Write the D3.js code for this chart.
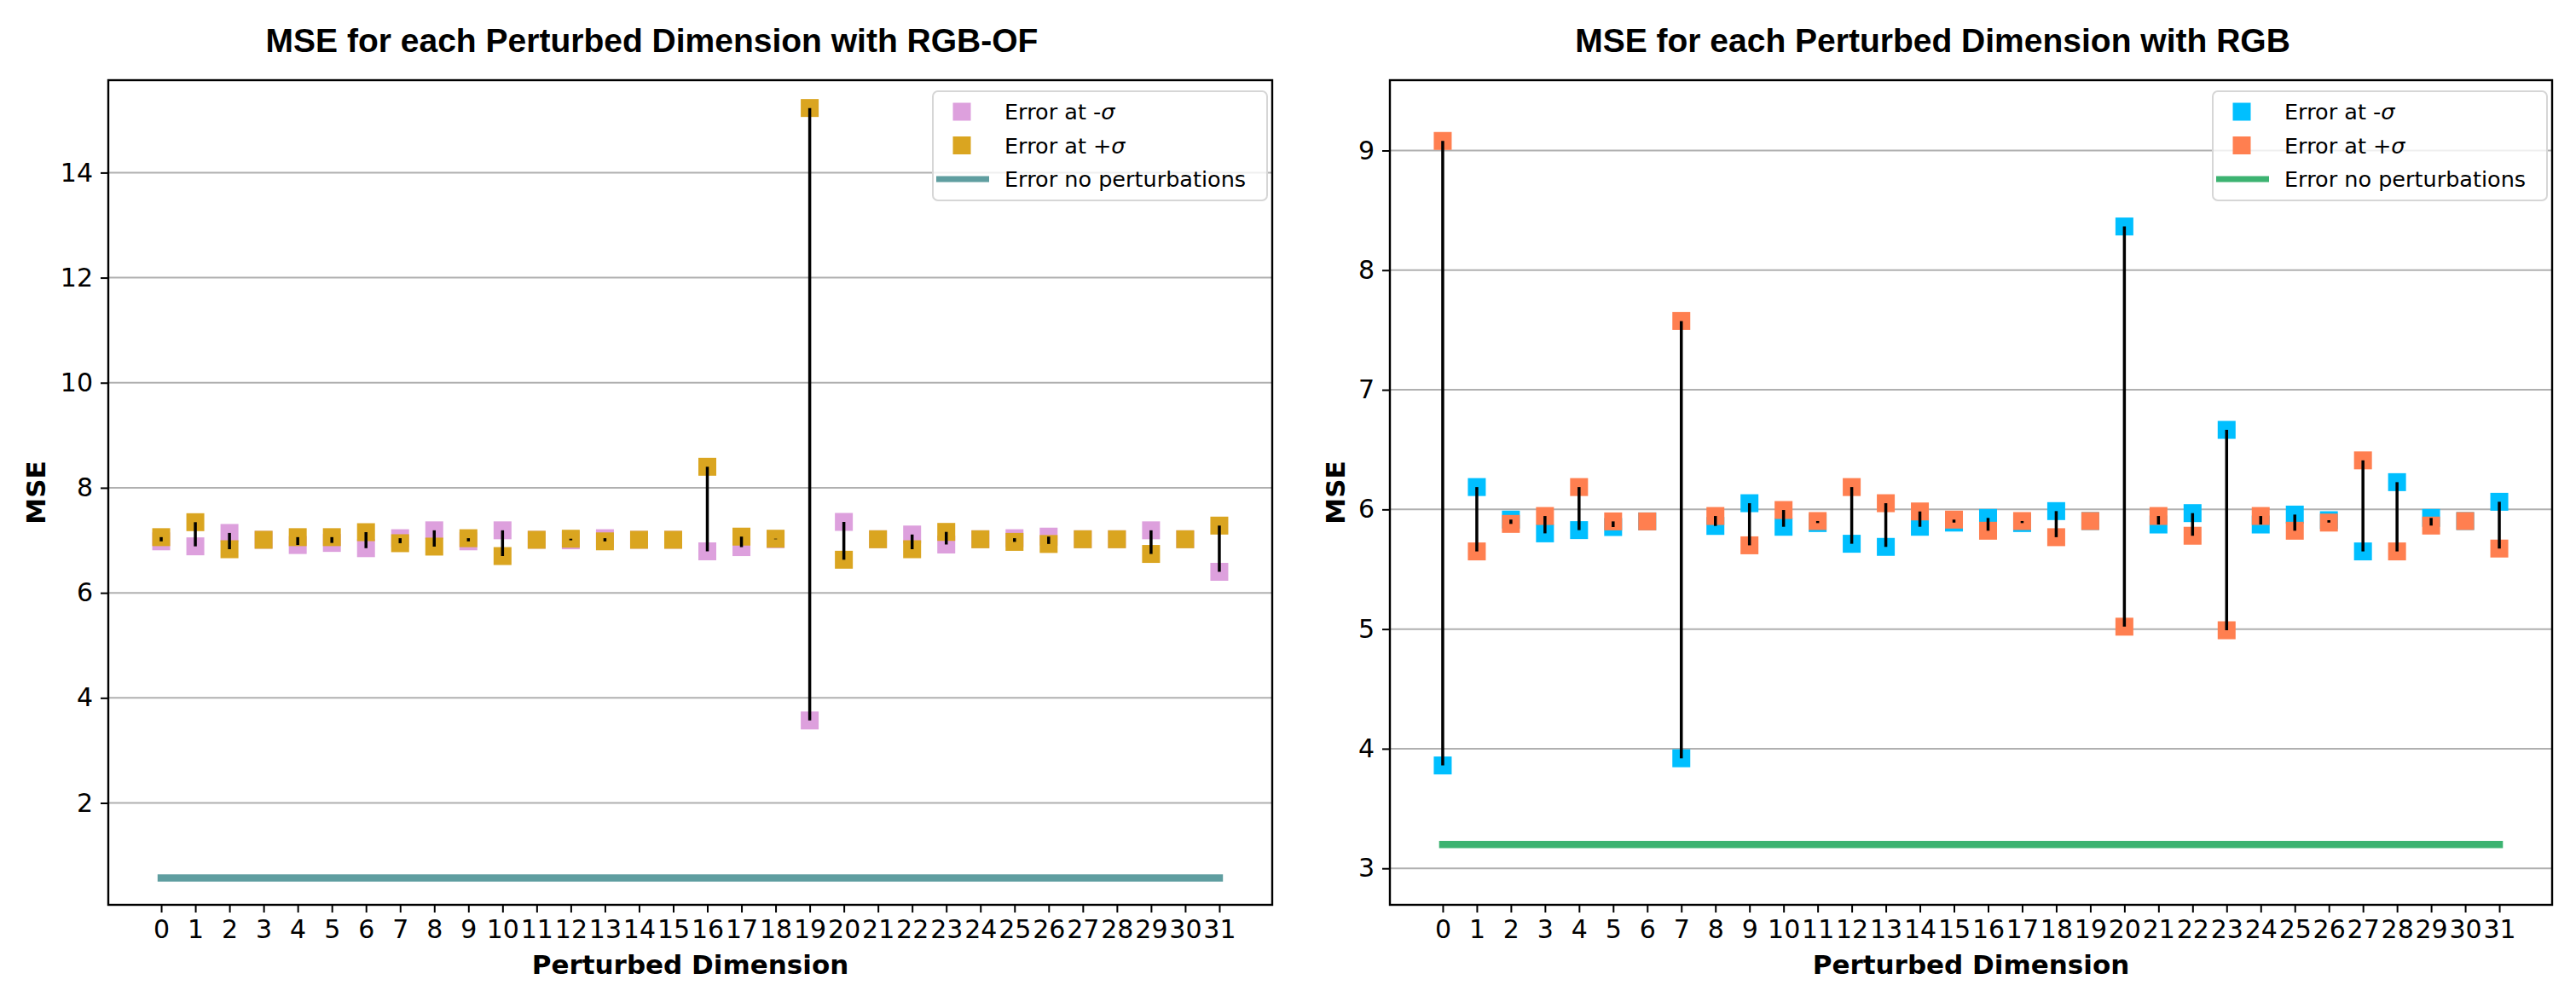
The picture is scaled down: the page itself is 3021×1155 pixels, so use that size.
<!DOCTYPE html>
<html>
<head>
<meta charset="utf-8">
<script src="https://cdn.jsdelivr.net/npm/d3@7"></script>
<style>
  body { margin: 0; background: #fff; }
  svg { display: block; }
</style>
</head>
<body>
<svg id="chart" width="3021" height="1155"></svg>
<script>
/* ── MSE per perturbed dimension: RGB-OF vs RGB ─────────── */

const dims = [0, 1, 2, 3, 4, 5, 6, 7, 8, 9, 10, 11, 12, 13, 14, 15,
              16, 17, 18, 19, 20, 21, 22, 23, 24, 25, 26, 27, 28, 29, 30, 31];

// RGB-OF panel
const ofMinus = [6.98, 6.885, 7.14, 7.01, 6.91, 6.95, 6.85, 7.04, 7.19, 6.98, 7.19, 7.01, 7.00, 7.04, 7.01, 7.01,
                 6.79, 6.87, 7.02, 3.57, 7.35, 7.02, 7.11, 6.92, 7.02, 7.04, 7.07, 7.02, 7.02, 7.19, 7.02, 6.40];
const ofPlus  = [7.06, 7.345, 6.83, 7.01, 7.06, 7.06, 7.155, 6.945, 6.88, 7.04, 6.70, 7.01, 7.03, 6.98, 7.01, 7.01,
                 8.40, 7.07, 7.03, 15.23, 6.63, 7.02, 6.83, 7.16, 7.02, 6.97, 6.93, 7.02, 7.02, 6.74, 7.02, 7.28];
const ofBase  = 0.57;
const ofTicks = [2, 4, 6, 8, 10, 12, 14];

// RGB panel
const rgbMinus = [3.86, 6.187, 5.915, 5.80, 5.827, 5.853, 5.90, 3.92, 5.862, 6.052, 5.855, 5.886, 5.713, 5.687, 5.855, 5.89,
                  5.929, 5.886, 5.986, 5.903, 8.365, 5.874, 5.969, 6.665, 5.874, 5.957, 5.91, 5.649, 6.228, 5.929, 5.903, 6.064];
const rgbPlus  = [9.08, 5.649, 5.879, 5.945, 6.187, 5.90, 5.90, 7.575, 5.945, 5.70, 5.995, 5.903, 6.187, 6.052, 5.983, 5.915,
                  5.822, 5.903, 5.768, 5.903, 5.02, 5.945, 5.78, 4.99, 5.945, 5.822, 5.89, 6.41, 5.649, 5.865, 5.903, 5.673];
const rgbBase  = 3.2;
const rgbTicks = [3, 4, 5, 6, 7, 8, 9];

const svg = d3.select('#chart');
const TOP = 94;
const BOTTOM = 1061;
const MS = 21;            // marker size
const TICK_FONT = 'DejaVu Sans, sans-serif';

drawPanel({
  left: 127, right: 1492,
  yDomain: [0.06, 15.76],
  yTicks: ofTicks,
  minus: ofMinus, plus: ofPlus, base: ofBase,
  cMinus: '#DDA0DD', cPlus: '#DAA520', cBase: '#5F9EA0',
  title: 'MSE for each Perturbed Dimension with RGB-OF',
  labelX: 42
});

drawPanel({
  left: 1630, right: 2993,
  yDomain: [2.695, 9.588],
  yTicks: rgbTicks,
  minus: rgbMinus, plus: rgbPlus, base: rgbBase,
  cMinus: '#00BFFF', cPlus: '#FF7F50', cBase: '#3CB371',
  title: 'MSE for each Perturbed Dimension with RGB',
  labelX: 1566
});

function drawPanel(p) {
  const x = d3.scaleLinear().domain([-1.55, 32.55]).range([p.left, p.right]);
  const y = d3.scaleLinear().domain(p.yDomain).range([BOTTOM, TOP]);
  const g = svg.append('g');

  // Horizontal grid
  g.selectAll('.grid')
    .data(p.yTicks)
    .join('line')
    .attr('class', 'grid')
    .attr('x1', p.left).attr('x2', p.right)
    .attr('y1', d => y(d)).attr('y2', d => y(d))
    .attr('stroke', '#b0b0b0')
    .attr('stroke-width', 2);

  // Unperturbed error line
  g.append('line')
    .attr('x1', x(dims[0]))
    .attr('x2', x(dims[dims.length - 1]))
    .attr('y1', y(p.base)).attr('y2', y(p.base))
    .attr('stroke', p.cBase)
    .attr('stroke-width', 8.5)
    .attr('stroke-linecap', 'square');

  // -sigma markers, then +sigma on top
  g.selectAll('.m-minus')
    .data(dims)
    .join('rect')
    .attr('class', 'm-minus')
    .attr('x', d => x(d) - MS / 2)
    .attr('y', d => y(p.minus[d]) - MS / 2)
    .attr('width', MS).attr('height', MS)
    .attr('fill', p.cMinus);

  g.selectAll('.m-plus')
    .data(dims)
    .join('rect')
    .attr('class', 'm-plus')
    .attr('x', d => x(d) - MS / 2)
    .attr('y', d => y(p.plus[d]) - MS / 2)
    .attr('width', MS).attr('height', MS)
    .attr('fill', p.cPlus);

  // Black connectors
  g.selectAll('.stem')
    .data(dims)
    .join('line')
    .attr('class', 'stem')
    .attr('x1', d => x(d)).attr('x2', d => x(d))
    .attr('y1', d => y(p.minus[d]))
    .attr('y2', d => y(p.plus[d]))
    .attr('stroke', '#000')
    .attr('stroke-width', 3.5);

  // Axes
  const xAxis = g.append('g')
    .attr('transform', `translate(0,${BOTTOM})`)
    .call(d3.axisBottom(x).tickValues(dims).tickSize(9).tickPadding(9).tickFormat(d3.format('d')));
  styleAxis(xAxis);

  const yAxis = g.append('g')
    .attr('transform', `translate(${p.left},0)`)
    .call(d3.axisLeft(y).tickValues(p.yTicks).tickSize(9).tickPadding(9).tickFormat(d3.format('d')));
  styleAxis(yAxis);

  // Frame
  g.append('rect')
    .attr('x', p.left).attr('y', TOP)
    .attr('width', p.right - p.left)
    .attr('height', BOTTOM - TOP)
    .attr('fill', 'none')
    .attr('stroke', '#000')
    .attr('stroke-width', 2.4);

  // Title
  g.append('text')
    .attr('x', (p.left + p.right) / 2 - 45)
    .attr('y', 61)
    .attr('text-anchor', 'middle')
    .attr('font-family', 'Liberation Sans, Arial, sans-serif')
    .attr('font-weight', 'bold')
    .attr('font-size', 39)
    .text(p.title);

  // Axis labels
  g.append('text')
    .attr('x', (p.left + p.right) / 2)
    .attr('y', 1142)
    .attr('text-anchor', 'middle')
    .attr('font-family', TICK_FONT)
    .attr('font-weight', 'bold')
    .attr('font-size', 31)
    .text('Perturbed Dimension');

  g.append('text')
    .attr('transform', `translate(${p.labelX},${(TOP + BOTTOM) / 2}) rotate(-90)`)
    .attr('text-anchor', 'middle')
    .attr('dy', '0.35em')
    .attr('font-family', TICK_FONT)
    .attr('font-weight', 'bold')
    .attr('font-size', 31)
    .text('MSE');

  // Legend
  const lw = 392, lh = 128;
  const lg = g.append('g')
    .attr('transform', `translate(${p.right - 6 - lw},${TOP + 13})`);

  lg.append('rect')
    .attr('width', lw).attr('height', lh)
    .attr('rx', 6)
    .attr('fill', '#fff').attr('fill-opacity', 0.8)
    .attr('stroke', '#d6d6d6')
    .attr('stroke-width', 2);

  const entries = [
    { sign: '-', color: p.cMinus, kind: 'marker' },
    { sign: '+', color: p.cPlus,  kind: 'marker' },
    { sign: null, color: p.cBase, kind: 'line' }
  ];

  const rows = lg.selectAll('.lg-row')
    .data(entries)
    .join('g')
    .attr('class', 'lg-row')
    .attr('transform', (d, i) => `translate(0,${24 + i * 39.5})`);

  rows.filter(d => d.kind === 'marker').append('rect')
    .attr('x', 34 - MS / 2).attr('y', -MS / 2)
    .attr('width', MS).attr('height', MS)
    .attr('fill', d => d.color);

  rows.filter(d => d.kind === 'line').append('line')
    .attr('x1', 4).attr('x2', 66)
    .attr('stroke', d => d.color)
    .attr('stroke-width', 7);

  const txt = rows.append('text')
    .attr('x', 84)
    .attr('dy', '0.36em')
    .attr('font-family', TICK_FONT)
    .attr('font-size', 25.5);

  txt.filter(d => d.sign).append('tspan').text(d => 'Error at ' + d.sign);
  txt.filter(d => d.sign).append('tspan').attr('font-style', 'italic').text('σ');
  txt.filter(d => !d.sign).text('Error no perturbations');
}

function styleAxis(ax) {
  ax.select('.domain').remove();
  ax.selectAll('.tick line').attr('stroke', '#000').attr('stroke-width', 2);
  ax.selectAll('.tick text')
    .attr('fill', '#000')
    .attr('font-family', TICK_FONT)
    .attr('font-size', 30);
}
</script>
</body>
</html>
